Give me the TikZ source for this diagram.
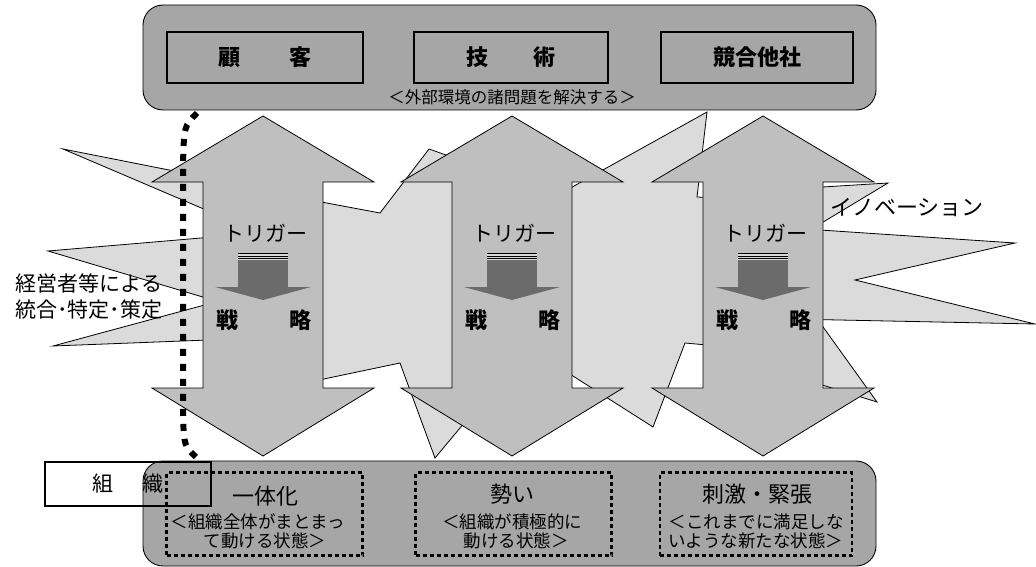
\documentclass[tikz,border=0pt]{standalone}
\usepackage{fontspec}
\setmainfont{Noto Sans CJK JP}
\tikzset{
  boxfill/.style={fill=black!35},
  arrowsty/.style={fill=black!25, draw=black, line width=0.8pt},
  burst/.style={fill=black!14, draw=black, line width=0.8pt},
  outerbox/.style={boxfill, draw=black, line width=0.9pt, rounded corners=20pt, minimum width=733pt, minimum height=105pt, inner sep=0pt},
  solidbox/.style={draw=black, line width=2.4pt, minimum height=51pt, inner sep=0pt},
  dashbox/.style={draw=black, line width=2.4pt, dash pattern=on 4pt off 3pt, minimum width=196pt, minimum height=83pt, inner sep=0pt},
  lbl/.style={inner sep=0pt, font=\fontsize{22}{24}\selectfont},
  lblb/.style={inner sep=0pt, font=\fontsize{22}{24}\selectfont\bfseries},
  small/.style={inner sep=0pt, font=\fontsize{17.5}{19}\selectfont},
  side/.style={inner sep=0pt, font=\fontsize{21}{26}\selectfont, align=center},
  innerfill/.style={fill=black!58},
  dotline/.style={line width=6pt, dash pattern=on 7pt off 8pt}
}
\newcommand\dblarr[1]{%
  \draw[arrowsty] (#1,116) -- (#1+111,182) -- (#1+60,182) -- (#1+60,388) -- (#1+111,388)
    -- (#1,456) -- (#1-111,388) -- (#1-60,388) -- (#1-60,182) -- (#1-111,182) -- cycle;}
\newcommand\trigarr[2]{%
  \fill[innerfill] (#1-25,253) rectangle (#1+25,288);
  \fill[innerfill] (#1-48,287) -- (#1+48,287) -- (#1,300) -- cycle;
  \fill[black!15] (#1-25,253) rectangle (#1+25,260);
  \foreach \yy in {253.6,256.2,258.8}{\draw[line width=0.9pt] (#1-25,\yy) -- (#1+25,\yy);}
  \node[inner sep=0pt, font=\fontsize{21}{24}\selectfont] (trig#2) at (#1+2,233) {トリガー};
  \node[lblb] (sen#2) at (#1-36,320) {戦};
  \node[lblb] (ryaku#2) at (#1+37,320) {略};}
\begin{document}
\begin{tikzpicture}[x=1pt,y=-1pt]
\fill[white] (0,0) rectangle (1036,567);
\useasboundingbox (0,0) rectangle (1036,567);

% ---- bursts (behind the arrows)
\draw[burst] (63,149) -- (260,188) -- (260,233) -- cycle;
\draw[burst] (48,251) -- (260,233) -- (260,314) -- cycle;
\draw[burst] (53,346) -- (260,290) -- (260,338) -- cycle;
\draw[burst] (300,198) -- (380,213) -- (429,149) -- (480,167) -- (540,205) -- (707,112)
   -- (697,197) -- (740,199) -- (740,348) -- (685,343) -- (653,427) -- (540,355)
   -- (480,404) -- (435,458) -- (400,363) -- (300,384) -- cycle;
\draw[burst] (888,183) -- (790,189) -- (790,242) -- cycle;
\draw[burst] (790,228) -- (1015,243) -- (855,280) -- (1035,324) -- (790,319) -- cycle;
\draw[burst] (790,281) -- (877,402) -- (790,375) -- cycle;

% ---- double arrows
\dblarr{263}
\dblarr{512}
\dblarr{763}
\trigarr{263}{1}
\trigarr{512}{2}
\trigarr{763}{3}

% ---- side labels
\node[side] (mgmt) at (89,297) {経営者等による\\統合･特定･策定};
\node[inner sep=0pt, font=\fontsize{22}{24}\selectfont] (inno) at (907,208) {イノベーション};

% ---- top box
\node[outerbox] (ext) at (509.5,57.5) {};
\node[solidbox, minimum width=196pt] (cust) at (265,57.5) {};
\node[lblb] at (cust) {顧\hspace{49pt}客};
\node[solidbox, minimum width=194pt] (tech) at (511,57.5) {};
\node[lblb] at (tech) {技\hspace{45pt}術};
\node[solidbox, minimum width=192pt] (comp) at (757,57.5) {};
\node[lblb] at (comp) {競合他社};
\node[small, font=\fontsize{16.5}{18}\selectfont] (extsub) at (512,97) {＜外部環境の諸問題を解決する＞};

% ---- organisation box (white part behind bottom box)
\fill[white] (45,462) rectangle (211,506);
\node[outerbox] (orgbase) at (509.5,513.5) {};
\draw[line width=2.4pt] (45,462) rectangle (211,506);
\coordinate (orgn) at (197,458);
\node[inner sep=0pt, font=\fontsize{21}{24}\selectfont] (org) at (128,484) {組\hspace{29pt}織};

\node[dashbox] (d1) at (264.5,514) {};
\node[dashbox] (d2) at (513.5,514) {};
\node[dashbox, minimum width=192pt] (d3) at (756,514) {};

\node[lbl] (h1) at (265,496) {一体化};
\node[small] (a1) at (258,522) {＜組織全体がまとまっ};
\node[small] (b1) at (265,541) {て動ける状態＞};
\node[lbl] (h2) at (512,494) {勢い};
\node[small] (a2) at (512,522) {＜組織が積極的に};
\node[small] (b2) at (516,541) {動ける状態＞};
\node[lbl] (h3) at (757,494) {刺激・緊張};
\node[small] (a3) at (756,522) {＜これまでに満足しな};
\node[small] (b3) at (756,541) {いような新たな状態＞};

% ---- dotted boundary
\coordinate (extsw) at (197,113);
\draw[dotline] (extsw) .. controls (184,126) .. (183,165) -- (183,415) .. controls (184,446) .. (orgn);
\end{tikzpicture}
\end{document}
